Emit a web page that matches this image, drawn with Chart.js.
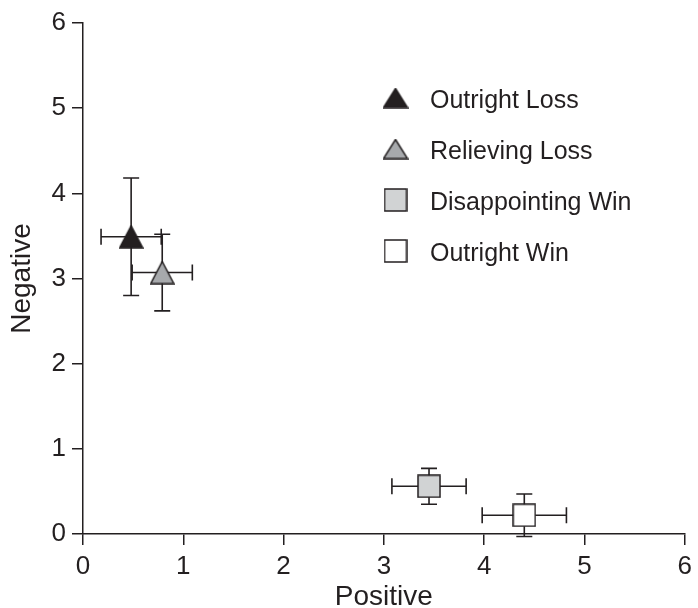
<!DOCTYPE html>
<html>
<head>
<meta charset="utf-8">
<script src="https://cdn.jsdelivr.net/npm/chart.js@4.4.0/dist/chart.umd.min.js"></script>
<style>
  body { margin: 0; background: #fff; }
</style>
</head>
<body>
<canvas id="chart" width="698" height="608"></canvas>
<script>
// mean ratings per outcome, with the half-width of each error bar
const categories = ['Outright Loss', 'Relieving Loss', 'Disappointing Win', 'Outright Win'];
const positive = [0.48, 0.79, 3.45, 4.40];
const positiveErr = [0.30, 0.30, 0.37, 0.42];
const negative = [3.49, 3.07, 0.56, 0.22];
const negativeErr = [0.69, 0.45, 0.21, 0.25];
const axisTicks = [0, 1, 2, 3, 4, 5, 6];

const ink = '#231f20';
const fills = ['#231f20', '#a7a9ac', '#d1d3d4', '#ffffff'];
const shapes = ['triangle', 'triangle', 'square', 'square'];
const fontFamily = "'Liberation Sans', Arial, Helvetica, sans-serif";

function marker(shape, fill, w, h) {
    const c = document.createElement('canvas');
    c.width = w;
    c.height = h;
    const g = c.getContext('2d');
    g.fillStyle = fill;
    g.strokeStyle = ink;
    g.lineWidth = 1.5;
    g.beginPath();
    if (shape === 'triangle') {
        g.moveTo(w / 2, 1);
        g.lineTo(w - 1, h - 1);
        g.lineTo(1, h - 1);
        g.closePath();
    } else {
        g.rect(1, 1, w - 2, h - 2);
    }
    g.fill();
    g.stroke();
    return c;
}

const plotMarkers = shapes.map((s, i) => marker(s, fills[i], s === 'triangle' ? 25 : 24, 24));
const legendMarkers = shapes.map((s, i) => marker(s, fills[i], s === 'triangle' ? 26 : 24, s === 'triangle' ? 21 : 24));

const errorBars = {
    id: 'errorBars',
    beforeDatasetsDraw(chart) {
        const { ctx, scales: { x, y } } = chart;
        const cap = 8;
        ctx.save();
        ctx.strokeStyle = ink;
        ctx.lineWidth = 1.6;
        categories.forEach((_, i) => {
            const px = x.getPixelForValue(positive[i]);
            const py = y.getPixelForValue(negative[i]);
            const x0 = x.getPixelForValue(positive[i] - positiveErr[i]);
            const x1 = x.getPixelForValue(positive[i] + positiveErr[i]);
            const y0 = y.getPixelForValue(negative[i] - negativeErr[i]);
            const y1 = y.getPixelForValue(negative[i] + negativeErr[i]);
            ctx.beginPath();
            ctx.moveTo(x0, py); ctx.lineTo(x1, py);
            ctx.moveTo(x0, py - cap); ctx.lineTo(x0, py + cap);
            ctx.moveTo(x1, py - cap); ctx.lineTo(x1, py + cap);
            ctx.moveTo(px, y0); ctx.lineTo(px, y1);
            ctx.moveTo(px - cap, y0); ctx.lineTo(px + cap, y0);
            ctx.moveTo(px - cap, y1); ctx.lineTo(px + cap, y1);
            ctx.stroke();
        });
        ctx.restore();
    }
};

const insideLegend = {
    id: 'insideLegend',
    afterDraw(chart) {
        const ctx = chart.ctx;
        ctx.save();
        ctx.font = '25px ' + fontFamily;
        ctx.fillStyle = ink;
        ctx.textBaseline = 'alphabetic';
        categories.forEach((label, i) => {
            const base = 108 + i * 51;
            const m = legendMarkers[i];
            ctx.drawImage(m, 395.5 - m.width / 2, base - 10 - m.height / 2);
            ctx.fillText(label, 430, base);
        });
        ctx.restore();
    }
};

const axisStyle = (title) => ({
    type: 'linear',
    min: 0,
    max: 6,
    afterBuildTicks: (scale) => { scale.ticks = axisTicks.map(v => ({ value: v })); },
    ticks: { color: ink, font: { size: 26, family: fontFamily }, padding: 6 },
    grid: { drawOnChartArea: false, drawTicks: true, tickLength: 11, color: ink, lineWidth: 1.5 },
    border: { display: true, color: ink, width: 1.5 },
    title: { display: true, text: title, color: ink, font: { size: 28, family: fontFamily, lineHeight: 1 }, padding: { top: 0, bottom: -3 } }
});

const xAxis = axisStyle('Positive');
xAxis.afterFit = (scale) => { scale.height = 74; };
const yAxis = axisStyle('Negative');
yAxis.afterFit = (scale) => { scale.width = 83; };
yAxis.title.padding = { top: 8, bottom: 0 };

new Chart(document.getElementById('chart'), {
    type: 'scatter',
    data: {
        datasets: categories.map((label, i) => ({
            label: label,
            data: [{ x: positive[i], y: negative[i] }],
            pointStyle: plotMarkers[i],
            pointRadius: 12,
            pointHoverRadius: 12
        }))
    },
    options: {
        responsive: false,
        animation: false,
        layout: { padding: { top: 23, right: 6, left: 0, bottom: 0 } },
        plugins: { legend: { display: false }, tooltip: { enabled: false } },
        scales: { x: xAxis, y: yAxis }
    },
    plugins: [errorBars, insideLegend]
});
</script>
</body>
</html>
